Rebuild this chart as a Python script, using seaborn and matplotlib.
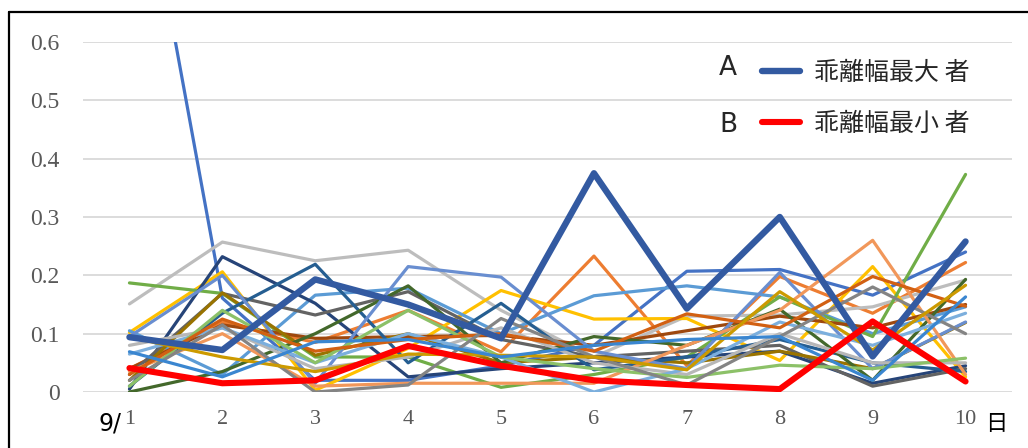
import matplotlib
matplotlib.use("Agg")
import matplotlib.pyplot as plt
from matplotlib.lines import Line2D
import numpy as np
import pandas as pd
import seaborn as sns

# Days of the month (September)
days = [1, 2, 3, 4, 5, 6, 7, 8, 9, 10]

# Daily deviation width per person
s01 = [1.03, 0.161, 0.020, 0.020, 0.045, 0.080, 0.207, 0.210, 0.166, 0.240]
s02 = [0.040, 0.120, 0.085, 0.140, 0.069, 0.233, 0.045, 0.198, 0.135, 0.222]
s03 = [0.151, 0.257, 0.225, 0.243, 0.140, 0.060, 0.130, 0.132, 0.146, 0.192]
s04 = [0.102, 0.206, 0.003, 0.075, 0.174, 0.125, 0.126, 0.054, 0.215, 0.026]
s05 = [0.105, 0.030, 0.166, 0.178, 0.100, 0.165, 0.182, 0.163, 0.100, 0.146]
s06 = [0.187, 0.169, 0.060, 0.060, 0.008, 0.030, 0.060, 0.163, 0.095, 0.373]
s07 = [0.005, 0.232, 0.152, 0.026, 0.040, 0.050, 0.060, 0.070, 0.015, 0.045]
s08 = [0.040, 0.115, 0.092, 0.095, 0.097, 0.080, 0.105, 0.130, 0.110, 0.150]
s09 = [0.030, 0.169, 0.132, 0.172, 0.090, 0.060, 0.070, 0.080, 0.010, 0.040]
s10 = [0.020, 0.170, 0.063, 0.100, 0.050, 0.060, 0.050, 0.070, 0.040, 0.119]
s11 = [0.010, 0.135, 0.219, 0.050, 0.152, 0.038, 0.060, 0.090, 0.050, 0.035]
s12 = [0.000, 0.035, 0.100, 0.182, 0.050, 0.095, 0.080, 0.142, 0.020, 0.193]
s13 = [0.095, 0.200, 0.015, 0.215, 0.197, 0.070, 0.040, 0.205, 0.040, 0.120]
s14 = [0.035, 0.100, 0.010, 0.015, 0.015, 0.015, 0.080, 0.140, 0.260, 0.030]
s15 = [0.080, 0.110, 0.040, 0.060, 0.110, 0.050, 0.030, 0.100, 0.050, 0.050]
s16 = [0.065, 0.110, 0.050, 0.100, 0.060, 0.000, 0.040, 0.120, 0.080, 0.135]
s17 = [0.010, 0.140, 0.050, 0.140, 0.060, 0.040, 0.025, 0.046, 0.040, 0.058]
s18 = [0.030, 0.125, 0.070, 0.090, 0.100, 0.070, 0.134, 0.110, 0.198, 0.147]
s19 = [0.020, 0.115, 0.000, 0.012, 0.126, 0.060, 0.012, 0.095, 0.180, 0.100]
s20 = [0.094, 0.060, 0.035, 0.065, 0.063, 0.060, 0.038, 0.172, 0.072, 0.183]
s21 = [0.069, 0.026, 0.086, 0.090, 0.060, 0.080, 0.090, 0.095, 0.020, 0.163]

# Highlighted persons
max_dev = [0.094, 0.072, 0.193, 0.150, 0.092, 0.375, 0.143, 0.300, 0.061, 0.258]
min_dev = [0.041, 0.015, 0.020, 0.079, 0.045, 0.020, 0.012, 0.005, 0.121, 0.018]

series = [s01, s02, s03, s04, s05, s06, s07, s08, s09, s10, s11,
          s12, s13, s14, s15, s16, s17, s18, s19, s20, s21]
colors = ["#4472C4", "#ED7D31", "#BDBDBD", "#FFC000", "#5B9BD5", "#70AD47",
          "#264478", "#9E480E", "#636363", "#997300", "#255E91", "#43682B",
          "#698ED0", "#F1975A", "#B7B7B7", "#7CAFDD", "#8CC168", "#D26012",
          "#848484", "#CC9A00", "#3A86D0"]

y_ticks = [0, 0.1, 0.2, 0.3, 0.4, 0.5, 0.6]
y_labels = ["0", "0.1", "0.2", "0.3", "0.4", "0.5", "0.6"]
x_labels = ["1", "2", "3", "4", "5", "6", "7", "8", "9", "10"]

names = [f"p{i:02d}" for i in range(1, len(series) + 1)]
df = pd.DataFrame({
    "day": np.tile(days, len(series)),
    "value": np.concatenate(series),
    "person": np.repeat(names, len(days)),
})
df_max = pd.DataFrame({"day": days, "value": max_dev})
df_min = pd.DataFrame({"day": days, "value": min_dev})

sns.set_style("white")
plt.rcParams["font.family"] = ["Noto Sans CJK JP", "DejaVu Sans"]

W, H = 1028, 448
fig = plt.figure(figsize=(W / 100, H / 100), dpi=100)
ax = fig.add_axes([83 / W, 1 - 392 / H, 929 / W, 350 / H])

sns.lineplot(data=df, x="day", y="value", hue="person",
             palette=dict(zip(names, colors)), estimator=None, sort=False,
             linewidth=2.3, legend=False, ax=ax)
sns.lineplot(data=df_max, x="day", y="value", color="#335AA1",
             linewidth=4.6, estimator=None, ax=ax)
sns.lineplot(data=df_min, x="day", y="value", color="#FF0000",
             linewidth=4.4, estimator=None, ax=ax)

ax.set_xlim(0.5, 10.5)
ax.set_ylim(0, 0.6)
ax.set_xlabel("")
ax.set_ylabel("")
for sp in ax.spines.values():
    sp.set_visible(False)
ax.set_yticks(y_ticks)
ax.set_yticklabels(y_labels, family="Liberation Serif", fontsize=17, color="#595959")
ax.set_xticks(days)
ax.set_xticklabels(x_labels, family="Liberation Serif", fontsize=16, color="#595959")
ax.tick_params(axis="y", length=0, pad=17)
ax.tick_params(axis="x", length=0, pad=13)
ax.yaxis.grid(True, color="#D9D9D9", linewidth=1.3)
ax.set_axisbelow(True)

# month prefix and day suffix around the category labels
fig.text(110 / W, 1 - 423 / H, "9/", fontsize=17, color="black",
         ha="center", va="center", family="Liberation Sans Narrow")
fig.text(996 / W, 1 - 423 / H, "日", fontsize=16, color="black",
         ha="center", va="center")

# legend
handles = [Line2D([], [], color="#335AA1", linewidth=4.6),
           Line2D([], [], color="#FF0000", linewidth=4.4)]
fig.legend(handles, ["乖離幅最大 者", "乖離幅最小 者"],
           loc="upper left", bbox_to_anchor=(752 / W, 1 - 50 / H),
           frameon=False, fontsize=18, handlelength=1.5, handletextpad=0.6,
           labelspacing=1.0, borderaxespad=0)
fig.text(728 / W, 1 - 68 / H, "A", fontsize=19, ha="center", va="center",
         family="DejaVu Sans")
fig.text(728 / W, 1 - 125 / H, "B", fontsize=19, ha="center", va="center",
         family="DejaVu Sans")

# outer frame
fig.add_artist(Line2D([9 / W, 1.0], [1 - 12 / H, 1 - 12 / H],
                      transform=fig.transFigure, color="black", linewidth=1.6))
fig.add_artist(Line2D([9 / W, 9 / W], [0.0, 1 - 12 / H],
                      transform=fig.transFigure, color="black", linewidth=1.6))

fig.savefig("out.png", dpi=100)
